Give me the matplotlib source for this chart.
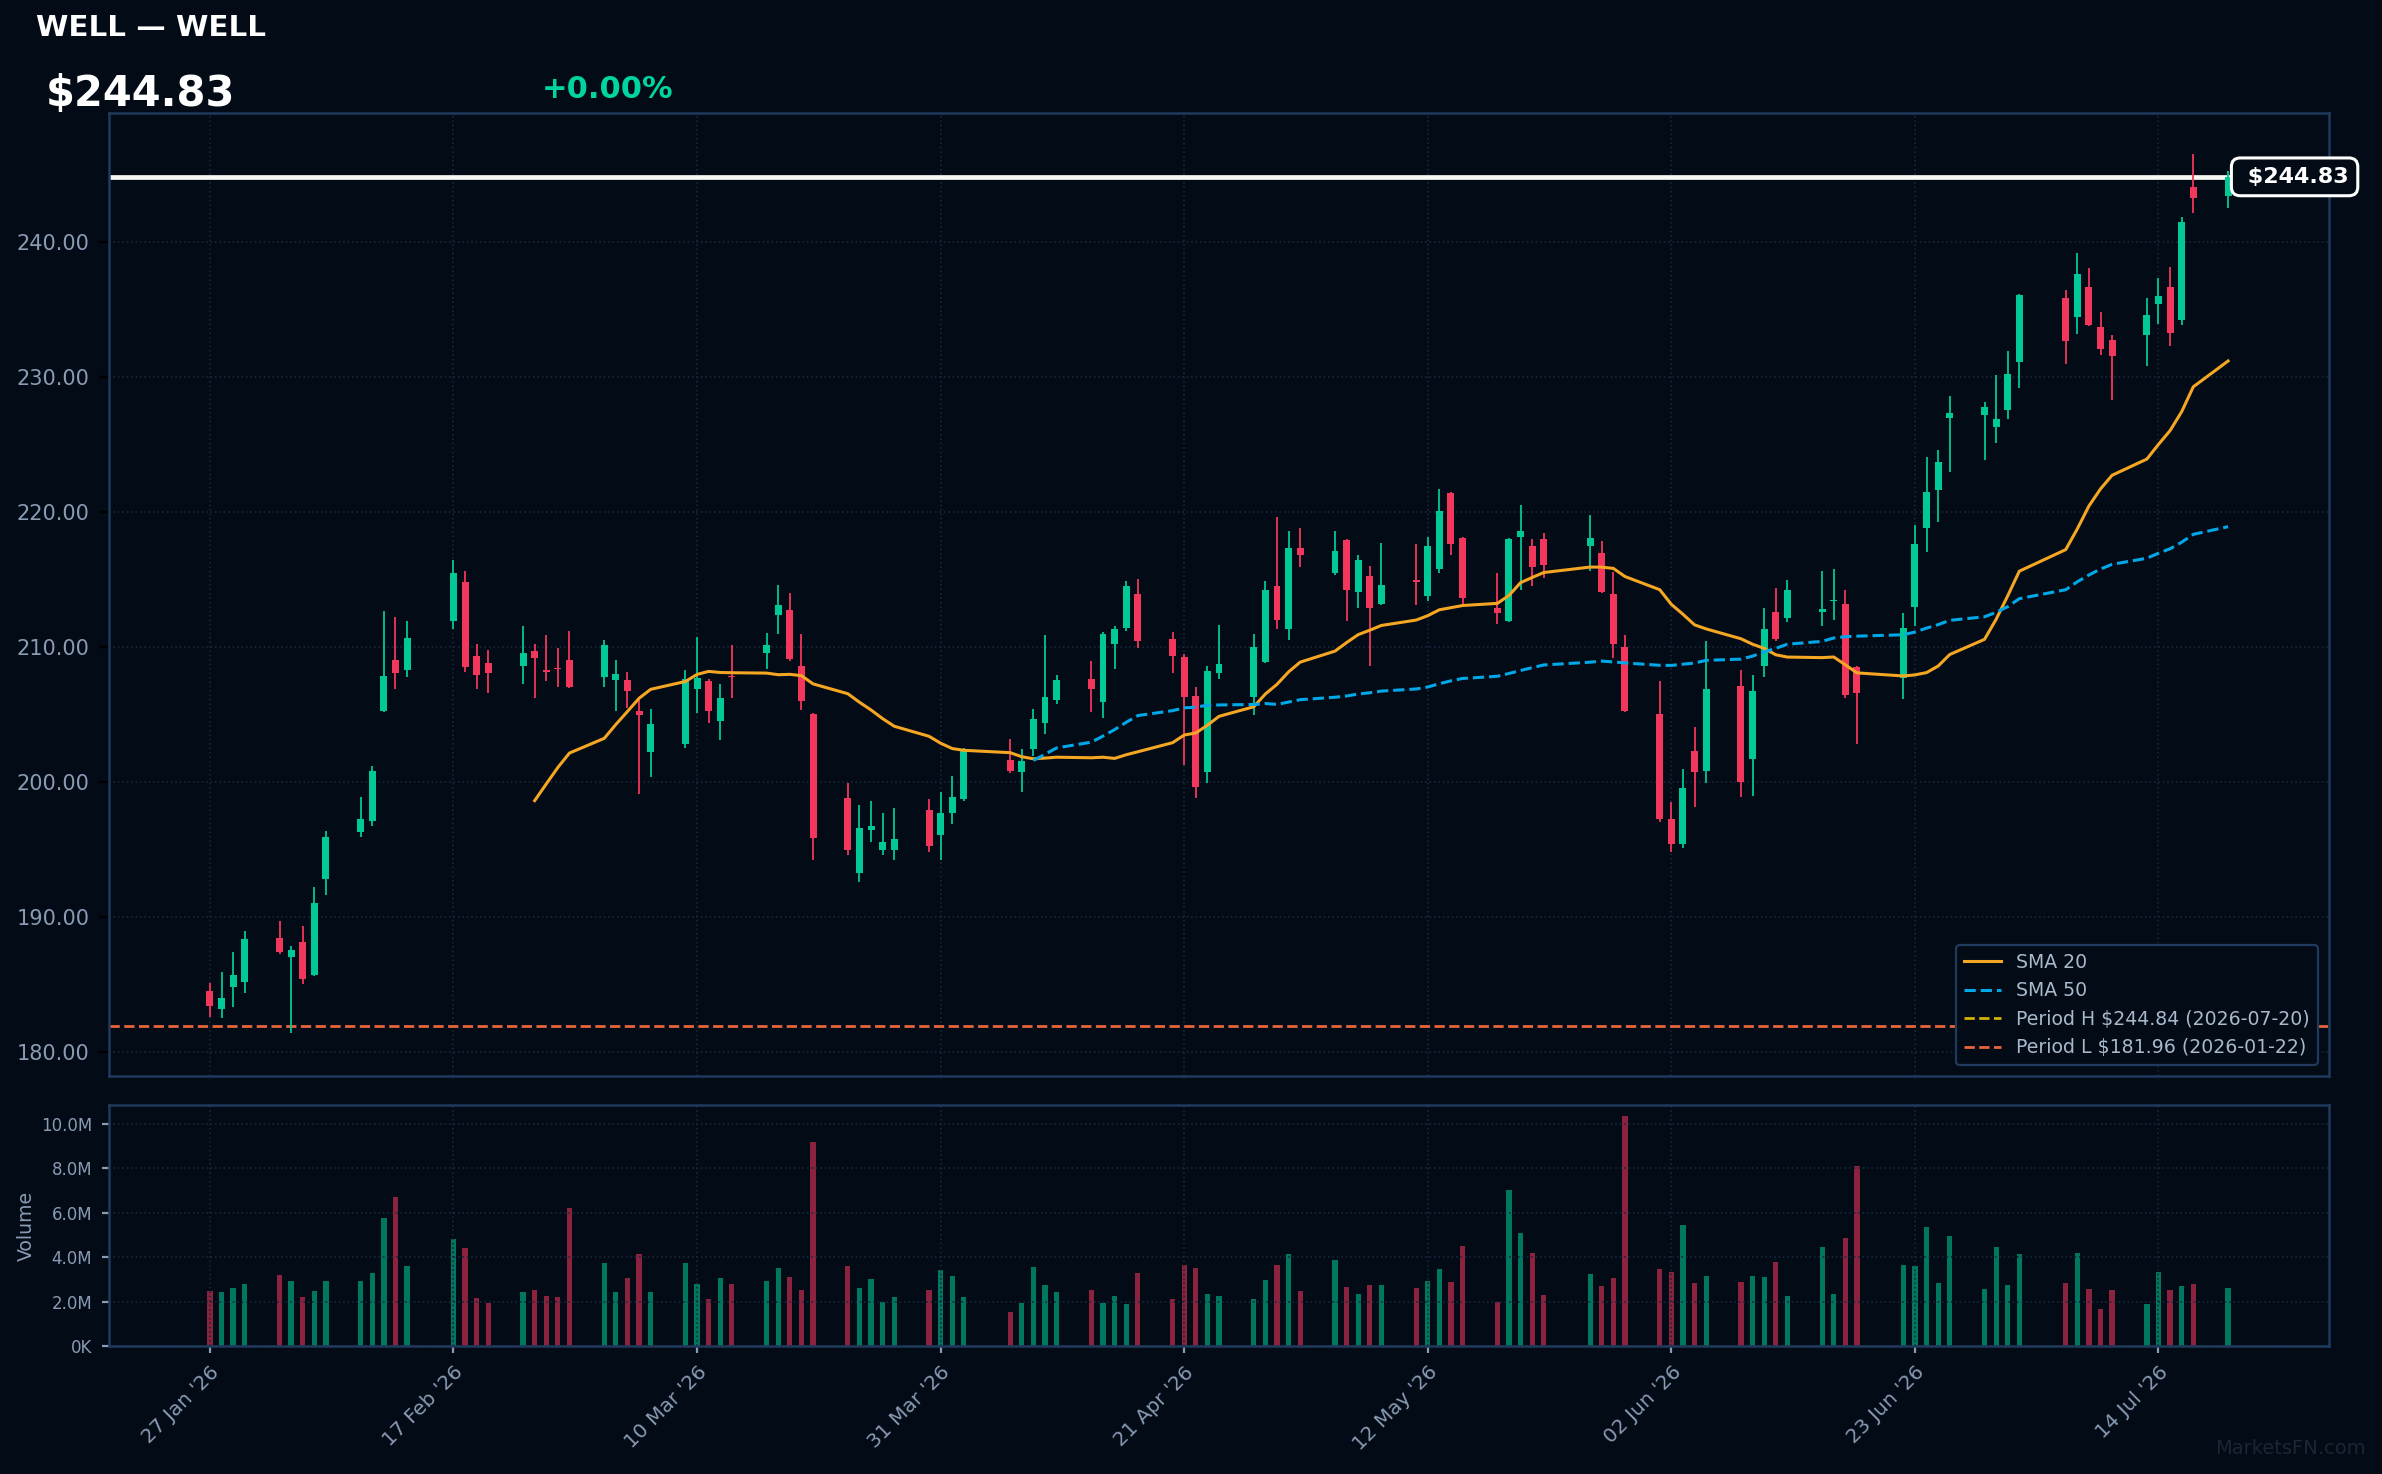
import matplotlib
matplotlib.use("Agg")
import matplotlib.pyplot as plt
import matplotlib.dates as mdates
import matplotlib.transforms as mtrans
import numpy as np
import pandas as pd

# ---------------- data ----------------
ticker = "WELL"
start_date = "2026-01-27"
end_date = "2026-07-20"
holidays = ["2026-02-16", "2026-04-03", "2026-05-25", "2026-06-19", "2026-07-03"]

opens = [184.52, 183.21, 184.84, 185.19, 188.44, 187.06, 188.15, 185.73, 192.84, 196.32,
         197.14, 205.28, 209.04, 208.32, 211.95, 214.81, 209.33, 208.81, 208.62, 209.70,
         208.22, 208.45, 209.04, 207.80, 207.58, 207.56, 205.23, 202.25, 202.81, 206.91,
         207.48, 204.52, 207.85, 209.58, 212.40, 212.74, 208.57, 205.04, 198.81, 193.28,
         196.47, 194.96, 194.96, 197.93, 196.07, 197.70, 198.74, 201.63, 200.74, 202.44,
         204.37, 206.07, 207.63, 205.93, 210.22, 211.41, 213.93, 210.59, 209.26, 206.37,
         200.74, 208.07, 206.30, 208.89, 214.52, 211.33, 217.33, 215.48, 217.93, 214.07,
         215.26, 213.19, 214.92, 213.78, 215.78, 221.41, 218.07, 212.89, 211.93, 218.15,
         217.48, 218.00, 217.48, 216.96, 213.93, 210.00, 205.04, 197.26, 195.40, 202.30,
         200.81, 207.11, 201.70, 208.59, 212.59, 212.15, 212.57, 213.40, 213.19, 208.52,
         207.70, 212.96, 218.81, 221.62, 227.00, 227.19, 226.31, 227.56, 231.14, 235.86,
         234.48, 236.68, 233.71, 232.73, 233.13, 235.38, 236.68, 234.22, 244.11, 243.40]
highs = [185.11, 185.90, 187.41, 188.96, 189.70, 187.85, 189.33, 192.22, 196.37, 198.89,
         201.19, 212.67, 212.22, 211.93, 216.44, 215.63, 210.22, 209.78, 211.56, 210.22,
         210.89, 209.93, 211.19, 210.52, 209.04, 208.15, 206.07, 205.41, 208.30, 210.74,
         207.60, 207.26, 210.15, 211.01, 214.59, 213.98, 210.94, 205.14, 199.93, 198.30,
         198.59, 197.70, 198.07, 198.74, 199.26, 200.44, 202.50, 203.19, 202.44, 205.41,
         210.89, 207.93, 208.96, 211.11, 211.56, 214.89, 215.04, 211.11, 209.48, 207.04,
         208.59, 211.63, 210.96, 214.89, 219.63, 218.59, 218.81, 218.59, 218.00, 216.81,
         216.00, 217.70, 217.63, 218.15, 221.70, 221.48, 218.15, 215.48, 218.07, 220.52,
         218.00, 218.44, 219.78, 217.85, 215.56, 210.89, 207.48, 198.52, 200.96, 204.07,
         210.44, 208.30, 207.93, 212.89, 214.37, 214.96, 215.63, 215.78, 214.22, 208.59,
         212.52, 219.04, 224.06, 224.56, 228.57, 228.12, 230.13, 231.91, 236.13, 236.45,
         239.18, 238.09, 234.83, 233.10, 235.86, 237.35, 238.17, 241.88, 246.55, 245.30]
lows = [182.62, 182.54, 183.36, 184.40, 187.28, 181.43, 185.06, 185.65, 191.65, 195.95,
        196.77, 205.20, 206.91, 207.80, 211.33, 208.17, 206.91, 206.62, 207.28, 206.25,
        207.51, 207.06, 206.98, 207.06, 205.26, 205.51, 199.14, 200.37, 202.54, 205.14,
        204.40, 203.11, 206.25, 208.37, 210.96, 209.00, 205.33, 194.22, 194.59, 192.62,
        195.56, 194.59, 194.22, 194.84, 194.22, 196.89, 198.60, 200.67, 199.26, 201.93,
        203.58, 205.78, 205.19, 204.74, 208.37, 211.19, 209.93, 208.07, 201.26, 198.81,
        199.93, 207.63, 204.96, 208.80, 211.33, 210.52, 215.93, 215.33, 211.93, 212.89,
        208.59, 213.10, 213.11, 213.41, 215.48, 216.81, 213.19, 211.70, 211.85, 214.22,
        214.52, 215.11, 215.63, 214.00, 209.19, 205.15, 197.05, 194.80, 195.10, 198.15,
        199.93, 198.89, 198.96, 207.78, 210.44, 211.85, 211.56, 212.00, 206.22, 202.81,
        206.15, 211.56, 217.03, 219.26, 222.97, 223.85, 225.12, 226.90, 229.20, 230.95,
        233.21, 233.80, 231.64, 228.30, 230.82, 233.93, 232.28, 233.82, 242.18, 242.55]
closes = [183.43, 184.00, 185.70, 188.37, 187.41, 187.56, 185.43, 191.04, 195.93, 197.26,
          200.81, 207.85, 208.10, 210.67, 215.48, 208.54, 207.95, 208.10, 209.56, 209.21,
          208.18, 208.40, 207.06, 210.15, 207.98, 206.77, 204.99, 204.30, 207.60, 207.70,
          205.28, 206.22, 207.75, 210.12, 213.09, 209.11, 206.02, 195.88, 194.96, 196.59,
          196.74, 195.56, 195.78, 195.28, 197.70, 198.89, 202.37, 200.81, 201.56, 204.67,
          206.30, 207.56, 206.89, 210.96, 211.33, 214.52, 210.44, 209.33, 206.30, 199.63,
          208.22, 208.74, 209.98, 214.22, 212.00, 217.33, 216.81, 217.11, 214.22, 216.44,
          212.89, 214.59, 214.85, 217.48, 220.07, 217.63, 213.63, 212.52, 218.00, 218.59,
          215.93, 216.07, 218.07, 214.07, 210.22, 205.26, 197.26, 195.40, 199.56, 200.74,
          206.89, 200.00, 206.74, 211.33, 210.59, 214.22, 212.81, 213.46, 206.44, 206.59,
          211.41, 217.63, 221.46, 223.74, 227.32, 227.77, 226.92, 230.21, 236.07, 232.68,
          237.64, 233.85, 232.10, 231.56, 234.59, 235.99, 233.26, 241.51, 243.24, 244.83]
volumes_m = [2.48, 2.44, 2.62, 2.80, 3.20, 2.93, 2.21, 2.48, 2.93, 2.93,
             3.29, 5.77, 6.72, 3.61, 4.83, 4.42, 2.17, 1.94, 2.44, 2.53,
             2.26, 2.21, 6.23, 3.74, 2.44, 3.07, 4.15, 2.44, 3.74, 2.80,
             2.12, 3.07, 2.80, 2.93, 3.52, 3.11, 2.53, 9.16, 3.61, 2.62,
             3.02, 1.98, 2.21, 2.53, 3.43, 3.16, 2.21, 1.53, 1.94, 3.56,
             2.75, 2.44, 2.53, 1.94, 2.26, 1.89, 3.29, 2.12, 3.65, 3.52,
             2.35, 2.26, 2.12, 2.98, 3.65, 4.15, 2.48, 3.88, 2.66, 2.35,
             2.75, 2.75, 2.62, 2.93, 3.47, 2.89, 4.51, 1.98, 7.04, 5.10,
             4.20, 2.30, 3.25, 2.71, 3.07, 10.33, 3.47, 3.34, 5.46, 2.84,
             3.16, 2.89, 3.16, 3.11, 3.79, 2.26, 4.47, 2.35, 4.87, 8.08,
             3.65, 3.61, 5.37, 2.84, 4.96, 2.57, 4.47, 2.75, 4.15, 2.84,
             4.20, 2.57, 1.67, 2.53, 1.89, 3.34, 2.53, 2.71, 2.80, 2.62]

last_price = 244.83
change_text = "+0.00%"
period_high = 244.84
period_high_date = "2026-07-20"
period_low = 181.96
period_low_date = "2026-01-22"
tick_dates = pd.date_range("2026-01-27", periods=9, freq="21D")

# ---------------- styling ----------------
BG = "#020b16"
SPINE = "#1f3a5c"
GRID = "#18273a"
TXT = "#8a9bb4"
UP = "#00c896"
DOWN = "#f2365c"

dates = pd.bdate_range(start_date, end_date, freq="C", holidays=holidays)
x = mdates.date2num(dates.to_pydatetime())
o = np.array(opens); h = np.array(highs); l = np.array(lows); c = np.array(closes)
v = np.array(volumes_m) * 1e6
up = c >= o
cols = np.where(up, UP, DOWN)

sma20 = pd.Series(c).rolling(20).mean().values
sma50 = pd.Series(c).rolling(50).mean().values

W, H = 2382, 1474
fig = plt.figure(figsize=(W / 200, H / 200), dpi=200, facecolor=BG)
ax = fig.add_axes([109 / W, 1 - 1076 / H, 2220 / W, 963 / H], facecolor=BG)
axv = fig.add_axes([109 / W, 1 - 1346 / H, 2220 / W, 241 / H], facecolor=BG, sharex=ax)

# candles
ax.vlines(x, l, h, colors=cols, linewidth=0.65, zorder=3)
body_h = np.maximum(np.abs(c - o), 0.08)
ax.bar(x, body_h, bottom=np.minimum(o, c), width=0.6, color=cols, linewidth=0, zorder=4)

ax.plot(x, sma20, color="#f5a623", lw=1.1, label="SMA 20", zorder=5)
ax.plot(x, sma50, color="#00a8e8", lw=1.1, ls="--", label="SMA 50", zorder=5)
ax.axhline(period_high, color="#d4b106", lw=1.0, ls="--",
           label=f"Period H ${period_high:.2f} ({period_high_date})", zorder=2)
ax.axhline(period_low, color="#e8643c", lw=1.0, ls="--",
           label=f"Period L ${period_low:.2f} ({period_low_date})", zorder=2)
ax.axhline(last_price, color="#f8f8f2", lw=1.7, zorder=2.5)

span = x[-1] - x[0]
ax.set_xlim(x[0] - 0.05 * span, x[-1] + 0.05 * span)
ax.set_ylim(178.22, 249.56)

yt = np.arange(180, 241, 10)
ax.set_yticks(yt)
ax.set_yticklabels([f"{t:.2f}" for t in yt])
ax.tick_params(axis="y", colors="#000000", labelcolor=TXT, labelsize=7.5, length=3.5)
ax.tick_params(axis="x", length=0, labelbottom=False)
ax.set_xticks(mdates.date2num(tick_dates.to_pydatetime()))
ax.grid(True, color=GRID, ls=":", lw=0.6)
for s in ax.spines.values():
    s.set_color(SPINE); s.set_linewidth(0.9)

leg = ax.legend(loc="lower right", fontsize=6.8, facecolor=BG, edgecolor=SPINE,
                labelcolor="#a9b9cc", framealpha=1.0, borderaxespad=0.6)
leg.get_frame().set_linewidth(0.8)

# price label box
trans = mtrans.blended_transform_factory(ax.transAxes, ax.transData)
ax.text(0.9845, last_price, " $" + f"{last_price:.2f}", transform=trans, ha="center", va="center",
        fontsize=8, fontweight="bold", color="white", zorder=10, clip_on=False,
        bbox=dict(boxstyle="round,pad=0.4", fc=BG, ec="white", lw=1.1))

# volume
axv.bar(x, v, width=0.45, color=cols, alpha=0.58, linewidth=0)
axv.set_ylim(0, v.max() * 1.05)
vt = np.arange(0, 10.1e6, 2e6)
axv.set_yticks(vt)
axv.set_yticklabels(["0K" if t == 0 else f"{t / 1e6:.1f}M" for t in vt])
axv.tick_params(axis="y", colors=TXT, labelsize=6, length=2.5)
axv.tick_params(axis="x", colors=TXT, labelsize=7.2, length=2.5)
axv.xaxis.set_major_formatter(mdates.DateFormatter("%d %b '%y"))
plt.setp(axv.get_xticklabels(), rotation=45, ha="right", rotation_mode="anchor")
axv.set_ylabel("Volume", color=TXT, fontsize=6.8, labelpad=2)
axv.grid(True, color=GRID, ls=":", lw=0.6)
for s in axv.spines.values():
    s.set_color(SPINE); s.set_linewidth(0.9)

# header texts
fig.text(36 / W, 1 - 27.5 / H, f"{ticker} \u2014 {ticker}", color="white", fontsize=10.6,
         fontweight="bold", va="center", ha="left")
fig.text(46 / W, 1 - 94 / H, f"${last_price:.2f}", color="white", fontsize=15,
         fontweight="bold", va="center", ha="left")
fig.text(542 / W, 1 - 90 / H, change_text, color="#00d4a0", fontsize=11,
         fontweight="bold", va="center", ha="left")
fig.text(0.993, 1 - 1448 / H, "MarketsFN.com", color="#1a2535", fontsize=7,
         ha="right", va="center")

fig.savefig("out.png", dpi=200, facecolor=BG)
